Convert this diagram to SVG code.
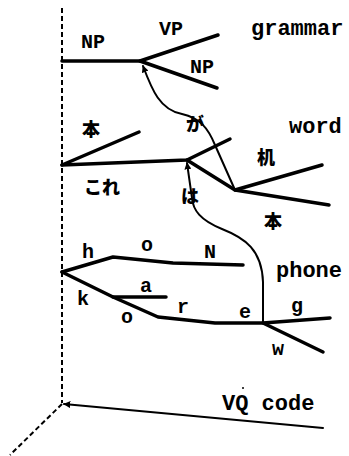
<svg xmlns="http://www.w3.org/2000/svg" width="349" height="456" viewBox="0 0 349 456">
<style>
.thick{fill:none;stroke:#000;stroke-width:3.5;stroke-linecap:round;stroke-linejoin:round}
.thin{fill:none;stroke:#000;stroke-width:2;stroke-linecap:round}
.dash{fill:none;stroke:#000;stroke-width:2;stroke-dasharray:5 3}
.lv{font-family:"Liberation Mono","Courier New",monospace;font-weight:bold;font-size:22px;fill:#000}
.lb{font-family:"Liberation Mono","Courier New",monospace;font-weight:bold;font-size:20px;fill:#000}
.jp{font-family:"Noto Sans CJK JP","Noto Sans CJK SC",sans-serif;font-weight:900;font-size:18px;fill:#000}
</style>
<defs>
<marker id="ah" viewBox="0 0 10 10" refX="9" refY="5" markerWidth="7" markerHeight="7" orient="auto" markerUnits="userSpaceOnUse">
<path d="M0,0 L10,5 L0,10 z" fill="#000"/>
</marker>
</defs>
<rect width="349" height="456" fill="#fff"/>
<g id="axes">
<line class="dash" x1="62" y1="8" x2="62" y2="403"/>
<line class="dash" x1="62" y1="404" x2="10" y2="455"/>
</g>
<g id="grammar">
<polyline class="thick" points="62,61 140,61 218,35"/>
<line class="thick" x1="140" y1="61" x2="217" y2="88"/>
<text class="lb" x="81" y="48">NP</text>
<text class="lb" x="159" y="35">VP</text>
<text class="lb" x="190" y="73">NP</text>
<text class="lv" x="251" y="35">grammar</text>
</g>
<g id="word">
<line class="thick" x1="62" y1="165" x2="139" y2="132"/>
<polyline class="thick" points="62,165 187,160 230,139"/>
<polyline class="thick" points="187,160 235,190 322,165"/>
<line class="thick" x1="235" y1="190" x2="329" y2="205"/>
<text class="jp" x="82" y="136">本</text>
<text class="jp" x="186" y="131">が</text>
<text class="jp" x="257" y="164">机</text>
<text class="jp" x="84" y="194" font-size="20">これ</text>
<text class="jp" x="181" y="203">は</text>
<text class="jp" x="264" y="228">本</text>
<text class="lv" x="289" y="133">word</text>
</g>
<g id="phone">
<polyline class="thick" points="62,272 113,257 173,263 243,265"/>
<polyline class="thick" points="62,272 113,297 158,317 215,323 263,323 330,318"/>
<line class="thick" x1="113" y1="297" x2="166" y2="297"/>
<line class="thick" x1="263" y1="323" x2="323" y2="352"/>
<text class="lb" x="82" y="258">h</text>
<text class="lb" x="141" y="251">o</text>
<text class="lb" x="204" y="258">N</text>
<text class="lb" x="140" y="292">a</text>
<text class="lb" x="77" y="305">k</text>
<text class="lb" x="121" y="323">o</text>
<text class="lb" x="177" y="313">r</text>
<text class="lb" x="239" y="318">e</text>
<text class="lb" x="291" y="312">g</text>
<text class="lb" x="272" y="355">w</text>
<text class="lv" x="276" y="277">phone</text>
</g>
<g id="vq">
<text class="lv" x="222" y="410">VQ code</text>
<circle cx="243" cy="388" r="1" fill="#000"/>
</g>
<g id="connectors">
<path class="thin" d="M235,190 L215,145 C208,128 200,118 182,114 C160,110 152,90 143,66" marker-end="url(#ah)"/>
<path class="thin" d="M263,323 L263,282 C262,250 245,238 222,229 C200,220 193,210 192,198 L187,163" marker-end="url(#ah)"/>
<line class="thin" x1="323" y1="428" x2="64" y2="404" marker-end="url(#ah)"/>
</g>
</svg>
